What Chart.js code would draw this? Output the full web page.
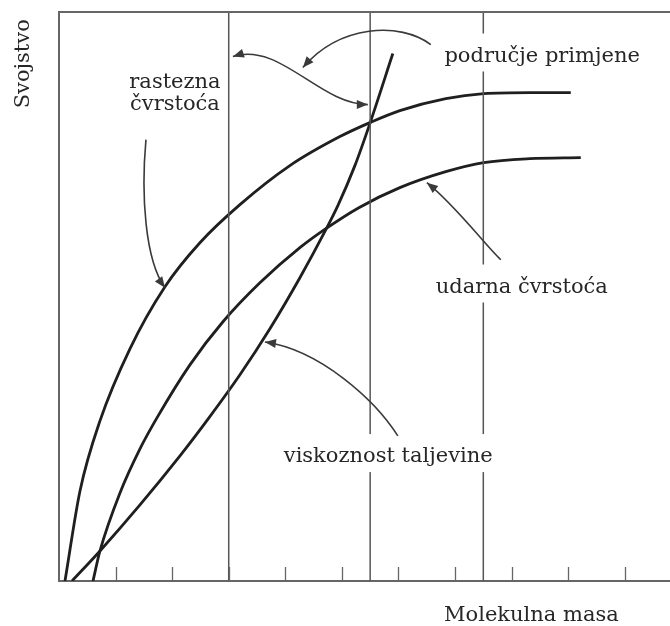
<!DOCTYPE html>
<html lang="hr">
<head>
<meta charset="utf-8">
<title>Svojstvo i molekulna masa</title>
<script src="https://cdn.jsdelivr.net/npm/chart.js@4.4.1/dist/chart.umd.min.js"></script>
<style>
  html, body { margin: 0; padding: 0; background: #fff; }
  #okvir { width: 670px; height: 626px; }
</style>
</head>
<body>
<div id="okvir"><canvas id="grafikon"></canvas></div>
<script>
// krivulje (x = molekulna masa, y = svojstvo, proizvoljne jedinice)
const rasteznaX = [0.106, 0.371, 0.724, 1.254, 1.873, 2.491, 3.198, 4.081, 4.965, 5.495, 6.025, 6.837, 7.509, 8.322, 9.046];
const rasteznaY = [0, 1.583, 2.814, 4.081, 5.172, 5.945, 6.614, 7.300, 7.810, 8.056, 8.267, 8.478, 8.566, 8.584, 8.584];

const udarnaX = [0.601, 0.724, 1.078, 1.431, 1.731, 2.314, 2.898, 3.551, 4.258, 4.717, 5.300, 6.025, 6.837, 7.509, 8.322, 9.223];
const udarnaY = [0, 0.528, 1.548, 2.322, 2.867, 3.799, 4.556, 5.240, 5.858, 6.192, 6.561, 6.913, 7.194, 7.353, 7.423, 7.441];

const viskoznostX = [0.230, 0.724, 1.431, 2.138, 2.650, 3.198, 3.728, 4.258, 4.717, 4.929, 5.230, 5.495, 5.901];
const viskoznostY = [0, 0.528, 1.337, 2.199, 2.867, 3.624, 4.433, 5.330, 6.174, 6.596, 7.300, 8.039, 9.270];

// granice podrucja primjene i podjele na osi x
const podrucjeX = [3, 5.5, 7.5];
const podjeleX = [1, 2, 3, 4, 5, 6, 7, 8, 9, 10];

// tekstovi na slici (polozaj u jedinicama osi)
const oznake = [
  { tekst: "rastezna", x: 2.05, y: 8.67 },
  { tekst: "čvrstoća", x: 2.05, y: 8.27 },
  { tekst: "područje primjene", x: 8.54, y: 9.13 },
  { tekst: "udarna čvrstoća", x: 8.18, y: 5.07 },
  { tekst: "viskoznost taljevine", x: 5.82, y: 2.09 },
];

// strelice: [pocetak, kontrola1, kontrola2, kraj], dvostruka = vrh i na pocetku
const strelice = [
  { tocke: [[1.537, 7.757], [1.449, 6.790], [1.519, 5.646], [1.873, 5.154]] },
  { tocke: [[6.572, 9.428], [6.025, 9.833], [4.965, 9.780], [4.311, 9.024]] },
  { tocke: [[3.074, 9.217], [3.905, 9.481], [4.611, 8.373], [5.459, 8.373]], dvostruka: true },
  { tocke: [[7.809, 5.646], [7.527, 5.910], [6.996, 6.614], [6.502, 7.001]] },
  { tocke: [[5.989, 2.551], [5.583, 3.184], [4.611, 4.063], [3.640, 4.200]] },
];

const FONT = '21px "DejaVu Serif"';
const BOJA_TEKSTA = "#262626";

const spoji = (xs, ys) => xs.map((x, i) => ({ x, y: ys[i] }));

const krivulja = (xs, ys) => ({
  data: spoji(xs, ys),
  showLine: true,
  borderColor: "#1f1f1f",
  borderWidth: 2.8,
  pointRadius: 0,
  cubicInterpolationMode: "monotone",
});

const okomite = podrucjeX.map((x) => ({
  data: [{ x, y: 0 }, { x, y: 10 }],
  showLine: true,
  borderColor: "#555",
  borderWidth: 1.5,
  pointRadius: 0,
}));

const vrhStrelice = (ctx, x, y, odX, odY) => {
  const kut = Math.atan2(y - odY, x - odX);
  const duz = 11;
  const sir = 4.5;
  ctx.beginPath();
  ctx.moveTo(x, y);
  ctx.lineTo(x - duz * Math.cos(kut) + sir * Math.sin(kut), y - duz * Math.sin(kut) - sir * Math.cos(kut));
  ctx.lineTo(x - duz * Math.cos(kut) - sir * Math.sin(kut), y - duz * Math.sin(kut) + sir * Math.cos(kut));
  ctx.closePath();
  ctx.fill();
};

const crtezPlugin = {
  id: "crtez",
  afterDatasetsDraw(chart) {
    const { ctx, chartArea, scales } = chart;
    const px = (v) => scales.x.getPixelForValue(v);
    const py = (v) => scales.y.getPixelForValue(v);

    ctx.save();

    // gornji rub okvira
    ctx.strokeStyle = "#666";
    ctx.lineWidth = 2;
    ctx.beginPath();
    ctx.moveTo(chartArea.left, chartArea.top);
    ctx.lineTo(chartArea.right, chartArea.top);
    ctx.stroke();

    // podjele prema unutra
    ctx.lineWidth = 1.3;
    podjeleX.forEach((v) => {
      const x = Math.round(px(v)) + 0.5;
      ctx.beginPath();
      ctx.moveTo(x, chartArea.bottom);
      ctx.lineTo(x, chartArea.bottom - 14);
      ctx.stroke();
    });

    // tekstovi s bijelom pozadinom (prvo pozadine, zatim tekst)
    ctx.font = FONT;
    ctx.textAlign = "center";
    ctx.textBaseline = "alphabetic";
    oznake.forEach((o) => {
      const w = ctx.measureText(o.tekst).width;
      ctx.fillStyle = "#fff";
      ctx.fillRect(px(o.x) - w / 2 - 4, py(o.y) - 28, w + 8, 38);
    });
    ctx.fillStyle = BOJA_TEKSTA;
    oznake.forEach((o) => ctx.fillText(o.tekst, px(o.x), py(o.y)));

    // strelice
    ctx.strokeStyle = "#3a3a3a";
    ctx.fillStyle = "#3a3a3a";
    ctx.lineWidth = 1.6;
    strelice.forEach((s) => {
      const t = s.tocke.map(([x, y]) => [px(x), py(y)]);
      ctx.beginPath();
      ctx.moveTo(t[0][0], t[0][1]);
      ctx.bezierCurveTo(t[1][0], t[1][1], t[2][0], t[2][1], t[3][0], t[3][1]);
      ctx.stroke();
      vrhStrelice(ctx, t[3][0], t[3][1], t[2][0], t[2][1]);
      if (s.dvostruka) vrhStrelice(ctx, t[0][0], t[0][1], t[1][0], t[1][1]);
    });

    // nazivi osi
    ctx.fillStyle = BOJA_TEKSTA;
    ctx.fillText("Molekulna masa", px(8.35), py(-0.70));
    ctx.translate(px(-0.63), py(9.09));
    ctx.rotate(-Math.PI / 2);
    ctx.textBaseline = "middle";
    ctx.fillText("Svojstvo", 0, 0);

    ctx.restore();
  },
};

new Chart(document.getElementById("grafikon"), {
  type: "scatter",
  data: {
    datasets: [
      ...okomite,
      krivulja(rasteznaX, rasteznaY),
      krivulja(udarnaX, udarnaY),
      krivulja(viskoznostX, viskoznostY),
    ],
  },
  options: {
    responsive: true,
    maintainAspectRatio: false,
    animation: false,
    layout: { padding: { left: 59, top: 12, right: 0, bottom: 45 } },
    plugins: {
      legend: { display: false },
      tooltip: { enabled: false },
    },
    scales: {
      x: {
        type: "linear",
        min: 0,
        max: 10.8,
        ticks: { display: false },
        grid: { drawOnChartArea: false, drawTicks: false },
        border: { display: true, color: "#666", width: 2 },
      },
      y: {
        type: "linear",
        min: 0,
        max: 10,
        ticks: { display: false },
        grid: { drawOnChartArea: false, drawTicks: false },
        border: { display: true, color: "#666", width: 2 },
      },
    },
  },
  plugins: [crtezPlugin],
});
</script>
</body>
</html>
